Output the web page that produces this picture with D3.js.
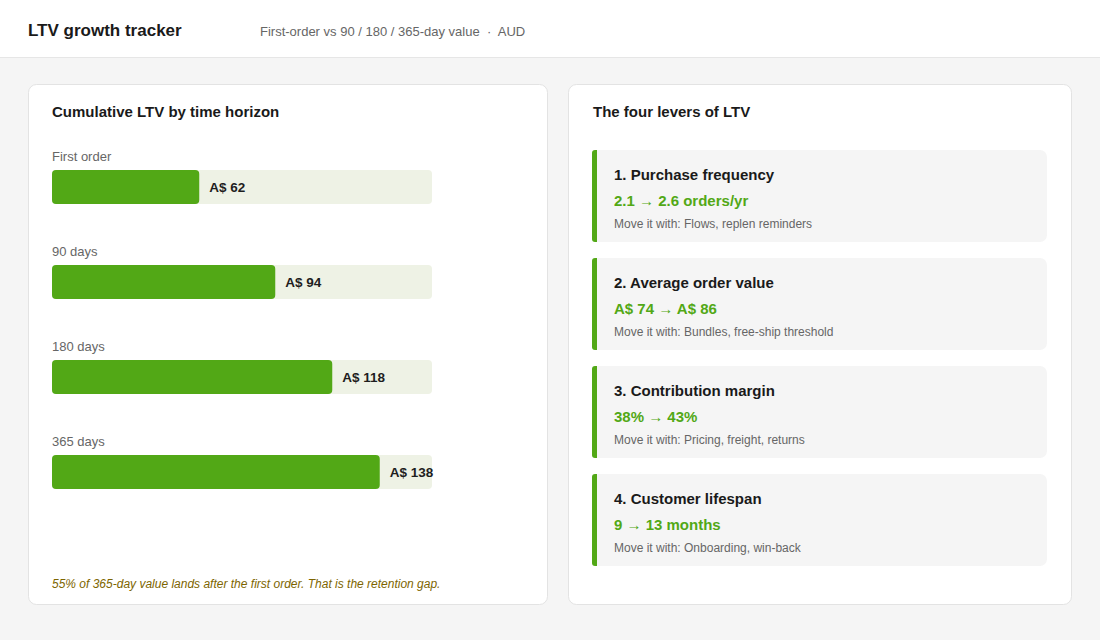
<!DOCTYPE html>
<html>
<head>
<meta charset="utf-8">
<script src="https://cdn.jsdelivr.net/npm/d3@7"></script>
<style>
  body { margin: 0; background: #f5f5f5; font-family: "Liberation Sans", Arial, sans-serif; }
  svg { display: block; }
  text { white-space: pre; }
</style>
</head>
<body>
<div id="chart"></div>
<script>
// data
const horizons = ["First order", "90 days", "180 days", "365 days"]
const ltvValues = [62, 94, 118, 138]
const leverTitles = ["1. Purchase frequency", "2. Average order value", "3. Contribution margin", "4. Customer lifespan"]
const leverChanges = ["2.1 → 2.6 orders/yr", "A$ 74 → A$ 86", "38% → 43%", "9 → 13 months"]
const leverHow = ["Flows, replen reminders", "Bundles, free-ship threshold", "Pricing, freight, returns", "Onboarding, win-back"]

const W = 1100, H = 640
const green = "#52a816"

const svg = d3.select("#chart").append("svg")
  .attr("width", W).attr("height", H)

svg.append("rect").attr("width", W).attr("height", H).attr("fill", "#f5f5f5")

// header
svg.append("rect").attr("width", W).attr("height", 57).attr("fill", "#fff")
svg.append("line").attr("x1", 0).attr("x2", W).attr("y1", 57.5).attr("y2", 57.5)
  .attr("stroke", "#e6e6e6")
svg.append("text").attr("x", 28).attr("y", 36)
  .style("font-size", "17px").style("font-weight", "bold").attr("fill", "#1a1a1a")
  .text("LTV growth tracker")
svg.append("text").attr("x", 260).attr("y", 36)
  .style("font-size", "13px").attr("fill", "#666")
  .text("First-order vs 90 / 180 / 365-day value  ·  AUD")

// cards
function card(x, y, w, h) {
  svg.append("rect").attr("x", x + 0.5).attr("y", y + 0.5).attr("width", w).attr("height", h)
    .attr("rx", 8).attr("fill", "#fff").attr("stroke", "#e3e3e3")
}
card(28, 84, 519, 520)
card(568, 84, 503, 520)

// left card: bars
const left = svg.append("g").attr("transform", "translate(52,0)")
left.append("text").attr("x", 0).attr("y", 117)
  .style("font-size", "15px").style("font-weight", "bold").attr("fill", "#1a1a1a")
  .text("Cumulative LTV by time horizon")

const x = d3.scaleLinear().domain([0, 160]).range([0, 380])
const y = d3.scalePoint().domain(horizons).range([170, 455])

const rows = left.selectAll("g.row").data(horizons).enter()
  .append("g").attr("class", "row")
  .attr("transform", d => `translate(0,${y(d)})`)

rows.append("text").attr("y", -9)
  .style("font-size", "13px").attr("fill", "#666")
  .text(d => d)
rows.append("rect").attr("width", x(160)).attr("height", 34).attr("rx", 4)
  .attr("fill", "#eef2e5")
rows.append("rect").attr("width", (d, i) => x(ltvValues[i])).attr("height", 34).attr("rx", 4)
  .attr("fill", green)
rows.append("text").attr("x", (d, i) => x(ltvValues[i]) + 10).attr("y", 22)
  .style("font-size", "13.5px").style("font-weight", "bold").attr("fill", "#1e1e1e")
  .text((d, i) => "A$ " + ltvValues[i])

left.append("text").attr("x", 0).attr("y", 588)
  .style("font-size", "12px").style("font-style", "italic").attr("fill", "#7d6500")
  .text("55% of 365-day value lands after the first order. That is the retention gap.")

// right card: levers
const right = svg.append("g").attr("transform", "translate(592,0)")
right.append("text").attr("x", 1).attr("y", 117)
  .style("font-size", "15px").style("font-weight", "bold").attr("fill", "#1a1a1a")
  .text("The four levers of LTV")

const ly = d3.scalePoint().domain(leverTitles).range([150, 474])

const levers = right.selectAll("g.lever").data(leverTitles).enter()
  .append("g").attr("class", "lever")
  .attr("transform", d => `translate(0,${ly(d)})`)

levers.append("rect").attr("width", 455).attr("height", 92).attr("rx", 7).attr("fill", "#f5f5f5")
levers.append("path").attr("d", "M3,0 h2 v92 h-2 a3,3 0 0 1 -3,-3 v-86 a3,3 0 0 1 3,-3 z")
  .attr("fill", green)
levers.append("text").attr("x", 22).attr("y", 30)
  .style("font-size", "15px").style("font-weight", "bold").attr("fill", "#1a1a1a")
  .text(d => d)
levers.append("text").attr("x", 22).attr("y", 56)
  .style("font-size", "15px").style("font-weight", "bold").attr("fill", green)
  .text((d, i) => leverChanges[i])
levers.append("text").attr("x", 22).attr("y", 78)
  .style("font-size", "12px").attr("fill", "#666")
  .text((d, i) => "Move it with: " + leverHow[i])
</script>
</body>
</html>
